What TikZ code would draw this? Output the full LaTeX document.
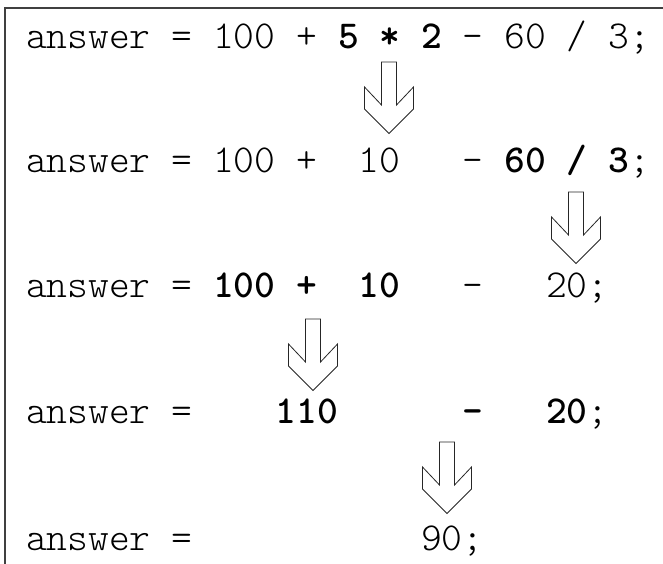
\documentclass[tikz,border=0pt]{standalone}
\usepackage{fontspec}
\newfontfamily\codefont{Latin Modern Mono Light}
\begin{document}
\begin{tikzpicture}[x=1pt,y=-1pt,
  tok/.style={anchor=base west,inner sep=0pt,outer sep=0pt,font=\codefont\fontsize{39.6}{44}\selectfont},
  hot/.style={tok,font=\codefont\bfseries\fontsize{39.6}{44}\selectfont},
  frameline/.style={draw=black!75,line width=1.4pt},
  arrowline/.style={draw=black!85,line width=0.8pt,line join=miter,fill=white},
  blockarrow/.pic={\path[arrowline] (-7.5,0) -- (-7.5,43) -- (-24.5,25) -- (-24.5,47) -- (0,71.5) -- (24.5,47) -- (24.5,25) -- (7.5,43) -- (7.5,0) -- cycle;}
]
\useasboundingbox (0,0) rectangle (663,564);
\def\cx#1{26+#1*20.8}
% frame (top and left edges)
\coordinate (ftr) at (663,8);
\coordinate (ftl) at (5,8);
\coordinate (fbl) at (5,564);
\draw[frameline] (ftr) -- (ftl) -- (fbl);
% row 1
\node[tok] (r1a) at ({\cx{0}},49) {answer};
\node[tok] (r1e) at ({\cx{7}},49) {=};
\node[tok] (r1n) at ({\cx{9}},49) {100};
\node[tok] (r1p) at ({\cx{13}},49) {+};
\node[hot] (r1f) at ({\cx{15}},49) {5};
\node[hot] (r1m) at ({\cx{17}},49) {*};
\node[hot] (r1t) at ({\cx{19}},49) {2};
\node[tok] (r1s) at ({\cx{21}},49) {-};
\node[tok] (r1x) at ({\cx{23}},49) {60};
\node[tok] (r1d) at ({\cx{26}},49) {/};
\node[tok] (r1h) at ({\cx{28}},49) {3};
\node[tok] (r1c) at ({\cx{29}},49) {;};
% row 2
\node[tok] (r2a) at ({\cx{0}},172) {answer};
\node[tok] (r2e) at ({\cx{7}},172) {=};
\node[tok] (r2n) at ({\cx{9}},172) {100};
\node[tok] (r2p) at ({\cx{13}},172) {+};
\node[tok] (r2t) at ({\cx{16}},172) {10};
\node[tok] (r2s) at ({\cx{21}},172) {-};
\node[hot] (r2x) at ({\cx{23}},172) {60};
\node[hot] (r2d) at ({\cx{26}},172) {/};
\node[hot] (r2h) at ({\cx{28}},172) {3};
\node[tok] (r2c) at ({\cx{29}},172) {;};
% row 3
\node[tok] (r3a) at ({\cx{0}},297) {answer};
\node[tok] (r3e) at ({\cx{7}},297) {=};
\node[hot] (r3n) at ({\cx{9}},297) {100};
\node[hot] (r3p) at ({\cx{13}},297) {+};
\node[hot] (r3t) at ({\cx{16}},297) {10};
\node[tok] (r3s) at ({\cx{21}},297) {-};
\node[tok] (r3w) at ({\cx{25}},297) {20};
\node[tok] (r3c) at ({\cx{27}},297) {;};
% row 4
\node[tok] (r4a) at ({\cx{0}},423) {answer};
\node[tok] (r4e) at ({\cx{7}},423) {=};
\node[hot] (r4n) at ({\cx{12}},423) {110};
\node[hot] (r4s) at ({\cx{21}},423) {-};
\node[hot] (r4w) at ({\cx{25}},423) {20};
\node[tok] (r4c) at ({\cx{27}},423) {;};
% row 5
\node[tok] (r5a) at ({\cx{0}},550) {answer};
\node[tok] (r5e) at ({\cx{7}},550) {=};
\node[tok] (r5n) at ({\cx{19}},550) {90};
\node[tok] (r5c) at ({\cx{21}},550) {;};
% arrows
\coordinate (a1) at (389,62);
\coordinate (a2) at (576,192);
\coordinate (a3) at (313,319);
\coordinate (a4) at (447,442);
\pic at (a1) {blockarrow};
\pic at (a2) {blockarrow};
\pic at (a3) {blockarrow};
\pic at (a4) {blockarrow};
\end{tikzpicture}
\end{document}
